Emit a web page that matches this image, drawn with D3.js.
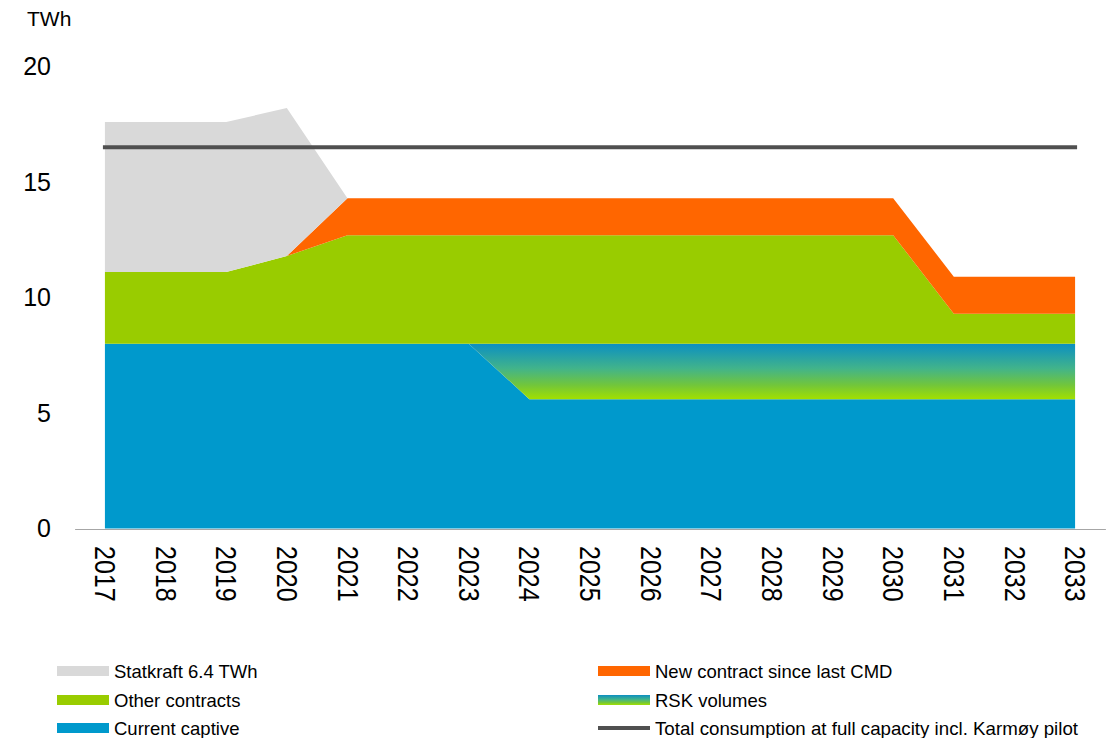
<!DOCTYPE html>
<html>
<head>
<meta charset="utf-8">
<style>
  body { margin: 0; background: #fff; }
  svg text { font-family: "Liberation Sans", Arial, sans-serif; fill: #000; }
</style>
</head>
<body>
<svg width="1111" height="738"></svg>
<script src="https://d3js.org/d3.v7.min.js"></script>
<script>
    // values (TWh)
    var years = ["2017", "2018", "2019", "2020", "2021", "2022", "2023", "2024", "2025",
                 "2026", "2027", "2028", "2029", "2030", "2031", "2032", "2033"];
    var captive     = [8, 8, 8, 8, 8, 8, 8, 5.6, 5.6, 5.6, 5.6, 5.6, 5.6, 5.6, 5.6, 5.6, 5.6];
    var rsk         = [0, 0, 0, 0, 0, 0, 0, 2.4, 2.4, 2.4, 2.4, 2.4, 2.4, 2.4, 2.4, 2.4, 2.4];
    var other       = [3.1, 3.1, 3.1, 3.8, 4.7, 4.7, 4.7, 4.7, 4.7, 4.7, 4.7, 4.7, 4.7, 4.7, 1.3, 1.3, 1.3];
    var newContract = [0, 0, 0, 0, 1.6, 1.6, 1.6, 1.6, 1.6, 1.6, 1.6, 1.6, 1.6, 1.6, 1.6, 1.6, 1.6];
    var statkraft   = [6.5, 6.5, 6.5, 6.4, 0, 0, 0, 0, 0, 0, 0, 0, 0, 0, 0, 0, 0];
    var totalConsumption = 16.5;
    var yTicks = [0, 5, 10, 15, 20];

    var keys = ["captive", "rsk", "other", "newContract", "statkraft"];
    var colors = {
        captive: "#0099cc",
        rsk: "url(#rskGrad)",
        other: "#99cc00",
        newContract: "#ff6600",
        statkraft: "#d9d9d9"
    };

    var table = years.map(function (yr, i) {
        return {
            year: yr,
            captive: captive[i],
            rsk: rsk[i],
            other: other[i],
            newContract: newContract[i],
            statkraft: statkraft[i]
        };
    });

    var svg = d3.select("svg");

    var x = d3.scalePoint()
        .domain(years)
        .range([74.6, 1105.4])
        .padding(0.5);

    var y = d3.scaleLinear()
        .domain([0, 20])
        .range([528.5, 66.5]);

    var defs = svg.append("defs");
    function rskGradient(id, units) {
        var gr = defs.append("linearGradient").attr("id", id);
        if (units === "user") {
            gr.attr("gradientUnits", "userSpaceOnUse")
                .attr("x1", 0).attr("x2", 0)
                .attr("y1", y(8)).attr("y2", y(5.6));
        } else {
            gr.attr("x1", 0).attr("x2", 0).attr("y1", 0).attr("y2", 1);
        }
        gr.append("stop").attr("offset", "0%").attr("stop-color", "#0b8fc2");
        gr.append("stop").attr("offset", "45%").attr("stop-color", "#42b48a");
        gr.append("stop").attr("offset", "75%").attr("stop-color", "#72c63a");
        gr.append("stop").attr("offset", "100%").attr("stop-color", "#a2e000");
    }
    rskGradient("rskGrad", "user");
    rskGradient("rskGradLegend", "box");

    var series = d3.stack().keys(keys)(table);

    var area = d3.area()
        .x(function (d) { return x(d.data.year); })
        .y0(function (d) { return y(d[0]); })
        .y1(function (d) { return y(d[1]); });

    svg.append("g")
        .selectAll("path")
        .data(series)
        .enter().append("path")
        .attr("fill", function (d) { return colors[d.key]; })
        .attr("d", area);

    // total consumption line
    svg.append("line")
        .attr("x1", x(years[0]))
        .attr("x2", x(years[years.length - 1]))
        .attr("y1", y(totalConsumption))
        .attr("y2", y(totalConsumption))
        .attr("stroke", "#505050")
        .attr("stroke-width", 4)
        .attr("stroke-linecap", "square");

    // x axis
    var xAxis = svg.append("g")
        .attr("transform", "translate(0," + (y(0) + 0.5) + ")")
        .call(d3.axisBottom(x).tickSize(0));
    xAxis.select(".domain").attr("stroke", "#a6a6a6").attr("stroke-width", 1);
    xAxis.selectAll("text")
        .attr("x", 0)
        .attr("y", 0)
        .attr("dy", "0.36em")
        .attr("text-anchor", "start")
        .attr("transform", "translate(0,17) rotate(90) scale(1,1.16)")
        .style("font-size", "25px")
        .style("font-family", "'Liberation Sans', Arial, sans-serif")
        .attr("fill", "#000");

    // y axis
    var yAxis = svg.append("g")
        .attr("transform", "translate(51,0)")
        .call(d3.axisLeft(y).tickValues(yTicks).tickSize(0).tickPadding(0));
    yAxis.select(".domain").remove();
    yAxis.selectAll("text")
        .attr("dy", "0.33em")
        .style("font-size", "25px")
        .style("font-family", "'Liberation Sans', Arial, sans-serif")
        .attr("fill", "#000");

    svg.append("text")
        .attr("x", 27)
        .attr("y", 26)
        .style("font-size", "21px")
        .text("TWh");

    // legend
    var legendItems = [
        { label: "Statkraft 6.4 TWh", fill: colors.statkraft, col: 0, row: 0 },
        { label: "Other contracts", fill: colors.other, col: 0, row: 1 },
        { label: "Current captive", fill: colors.captive, col: 0, row: 2 },
        { label: "New contract since last CMD", fill: colors.newContract, col: 1, row: 0 },
        { label: "RSK volumes", fill: "url(#rskGradLegend)", col: 1, row: 1 },
        { label: "Total consumption at full capacity incl. Karmøy pilot", line: true, col: 1, row: 2 }
    ];
    var colX = [57, 598];
    var rowY = [671, 700, 728];

    var leg = svg.append("g")
        .selectAll("g")
        .data(legendItems)
        .enter().append("g")
        .attr("transform", function (d) {
            return "translate(" + colX[d.col] + "," + rowY[d.row] + ")";
        });

    leg.filter(function (d) { return !d.line; })
        .append("rect")
        .attr("x", 0)
        .attr("y", -5)
        .attr("width", 52)
        .attr("height", 10)
        .attr("fill", function (d) { return d.fill; });

    leg.filter(function (d) { return d.line; })
        .append("line")
        .attr("x1", 0).attr("x2", 52)
        .attr("y1", 0).attr("y2", 0)
        .attr("stroke", "#505050")
        .attr("stroke-width", 4);

    var legText = leg.append("text")
        .attr("x", 57)
        .attr("y", 0)
        .attr("dy", "0.36em")
        .style("font-size", "18.5px")
        .text(function (d) { return d.label; });

    // the long label is squeezed a little in the original
    legText.filter(function (d) { return d.line; })
        .attr("textLength", 423)
        .attr("lengthAdjust", "spacingAndGlyphs");
</script>
</body>
</html>
